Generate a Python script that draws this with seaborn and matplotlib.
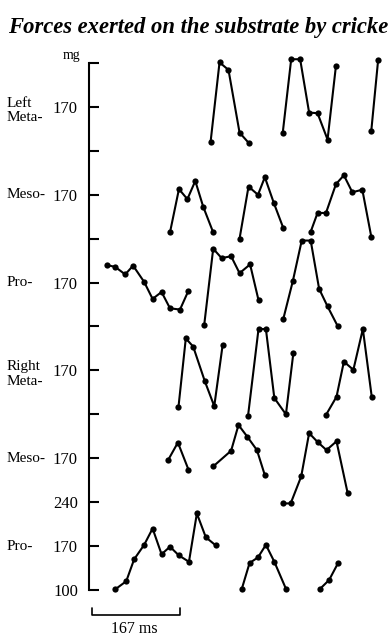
import matplotlib
matplotlib.use("Agg")
import matplotlib.pyplot as plt
import seaborn as sns
import pandas as pd
from matplotlib.transforms import blended_transform_factory

sns.set_theme(style="white")
plt.rcParams["font.family"] = ["Liberation Serif", "DejaVu Serif"]

# ---- data (time in ms, force in mg) ----
title = "Forces exerted on the substrate by cricke"   # as visible (cut at the edge)
leg_names = ["R Pro", "R Meso", "R Meta", "L Pro", "L Meso", "L Meta"]   # bottom to top
leg_labels = ["Pro-", "Meso-", "Right\nMeta-", "Pro-", "Meso-", "Left\nMeta-"]
tick_labels = ["100", "170", "240", "170", "", "170", "", "170", "", "170", "", "170", ""]
scale_bar_ms = 167
scale_bar_label = "167 ms"
unit_label = "mg"

r_pro_t = [[44, 65, 80, 99, 115, 132, 148, 165, 184, 199, 216, 235],
           [284, 299, 315, 330, 346, 368], [433, 450, 467]]
r_pro_f = [[101, 114, 149, 172, 198, 157, 169, 155, 145, 222, 184, 171],
           [101, 143, 152, 172, 145, 102], [102, 116, 143]]

r_meso_t = [[145, 163, 183], [230, 264, 278, 295, 313, 328],
            [362, 377, 397, 412, 428, 445, 464, 485]]
r_meso_f = [[168, 195, 152], [157, 182, 223, 204, 183, 143],
            [98, 98, 141, 210, 196, 183, 197, 115]]

r_meta_t = [[164, 178, 192, 214, 232, 248], [296, 316, 330, 346, 368, 382],
            [444, 464, 478, 496, 514, 531]]
r_meta_f = [[111, 221, 208, 153, 113, 211], [97, 236, 236, 126, 100, 197],
            [99, 128, 184, 171, 236, 127]]

l_pro_t = [[28, 44, 63, 78, 99, 115, 132, 148, 167, 183],
           [213, 230, 246, 264, 280, 300, 316],
           [363, 381, 398, 415, 431, 447, 466]]
l_pro_f = [[198, 195, 183, 197, 171, 144, 155, 129, 127, 157],
           [103, 224, 209, 212, 185, 199, 142],
           [112, 172, 237, 237, 160, 132, 101]]

l_meso_t = [[148, 165, 181, 196, 211, 230], [280, 297, 315, 328, 345, 363],
            [415, 428, 444, 463, 478, 494, 513, 530]]
l_meso_f = [[110, 179, 163, 192, 151, 110], [100, 183, 170, 198, 157, 117],
            [111, 141, 141, 187, 201, 174, 178, 103]]

l_meta_t = [[225, 242, 259, 280, 297], [362, 378, 395, 412, 428, 447, 463], [530, 543]]
l_meta_f = [[114, 241, 229, 129, 113], [129, 246, 246, 161, 160, 118, 236], [132, 245]]

times = [r_pro_t, r_meso_t, r_meta_t, l_pro_t, l_meso_t, l_meta_t]
forces = [r_pro_f, r_meso_f, r_meta_f, l_pro_f, l_meso_f, l_meta_f]

# ---- layout ----
STEP = 70          # mg per tick
LEG_SPACING = 140  # vertical offset between traces
BASE = 100

rows = []
for i, (name, ts, fs) in enumerate(zip(leg_names, times, forces)):
    for s, (tt, ff) in enumerate(zip(ts, fs)):
        for t, f in zip(tt, ff):
            rows.append(dict(leg=name, uid=f"{name}-{s}", t=t, force=f,
                             level=f + i * LEG_SPACING))
df = pd.DataFrame(rows)

W, H = 391, 637
fig = plt.figure(figsize=(W / 100, H / 100), dpi=100)
ax = fig.add_axes([89 / W, 1 - 590 / H, 1 - 89 / W, (590 - 63) / H])

sns.lineplot(data=df, x="t", y="level", units="uid", estimator=None, sort=False,
             color="black", marker="o", markersize=4.5, markeredgewidth=0,
             linewidth=1.5, clip_on=False, ax=ax, legend=False)

ax.set_xlim(-5.7, 567.4)
ax.set_ylim(BASE, BASE + 12 * STEP)
ax.set_yticks([BASE + k * STEP for k in range(13)])
ax.set_yticklabels(tick_labels)
ax.set_xticks([])
ax.set_xlabel("")
ax.set_ylabel("")
for side in ["top", "right", "bottom"]:
    ax.spines[side].set_visible(False)
ax.spines["left"].set_linewidth(1.5)
ax.spines["left"].set_color("black")
ax.tick_params(axis="y", left=True, direction="in", length=7, width=1.5,
               pad=8, labelsize=12, colors="black")

# leg labels
tr = blended_transform_factory(fig.transFigure, ax.transData)
for i, lab in enumerate(leg_labels):
    dy = -6 if "\n" in lab else 0
    ax.text(7 / W, 170 + i * LEG_SPACING + dy, lab, transform=tr, ha="left",
            va="center", fontsize=11, linespacing=1.15, color="black")

fig.text(80 / W, 1 - 56 / H, unit_label, ha="right", va="center", fontsize=10,
         color="black")

# scale bar
ax.plot([0, 0, scale_bar_ms, scale_bar_ms], [71, 60, 60, 71], color="black",
        lw=1.2, clip_on=False)
ax.text(scale_bar_ms / 2 - 4, 38, scale_bar_label, ha="center", va="center",
        fontsize=11.5, color="black")

fig.text(8 / W, 1 - 28 / H, title, ha="left", va="center", fontsize=16.3,
         style="italic", weight="bold", color="black")

fig.savefig("out.png", dpi=100)
